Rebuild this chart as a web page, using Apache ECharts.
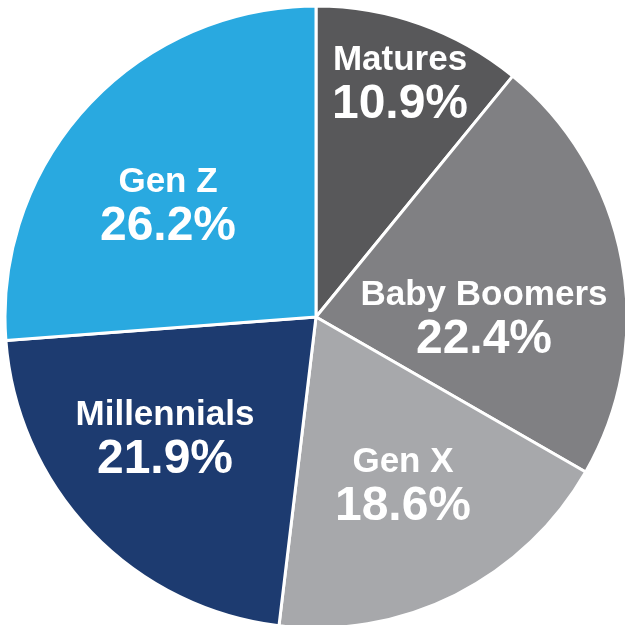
<!DOCTYPE html>
<html lang="en">
<head>
    <meta charset="UTF-8">
    <title>Generations</title>
    <style>
        html, body { margin: 0; padding: 0; background: #fff; }
        #box { width: 625px; height: 625px; }
    </style>
</head>
<body>
    <div id="box"></div>
    <script src="https://cdn.jsdelivr.net/npm/echarts@6/dist/echarts.min.js"></script>
    <script>
        // data (clockwise from the top)
        var names = ['Matures', 'Baby Boomers', 'Gen X', 'Millennials', 'Gen Z'];
        var shares = [10.9, 22.4, 18.6, 21.9, 26.2];
        var colors = ['#58585a', '#808083', '#a7a8ab', '#1d3b70', '#29a9e0'];

        // where each label block sits, offset from the pie centre (px)
        var labelSpots = [[84, -232], [168, 3], [87, 170], [-151, 123], [-148, -110]];

        var cx = 316, cy = 317;

        var chart = echarts.init(document.getElementById('box'));

        var pieData = names.map(function (n, i) {
            return { name: n, value: shares[i], itemStyle: { color: colors[i] } };
        });

        var option = {
            animation: false,
            series: [{
                type: 'pie',
                center: [cx, cy],
                radius: 311,
                startAngle: 90,
                clockwise: true,
                data: pieData,
                itemStyle: { borderColor: '#fff', borderWidth: 3 },
                label: {
                    show: true,
                    position: 'inside',
                    formatter: function (p) {
                        return '{n|' + p.name + '}\n{v|' + p.value.toFixed(1) + '%}';
                    },
                    rich: {
                        n: { color: '#fff', fontFamily: 'Liberation Sans, Arial', fontWeight: 'bold', fontSize: 35, lineHeight: 40 },
                        v: { color: '#fff', fontFamily: 'Liberation Sans, Arial', fontWeight: 'bold', fontSize: 48, lineHeight: 50 }
                    }
                },
                labelLine: { show: false },
                labelLayout: function (p) {
                    var s = labelSpots[p.dataIndex];
                    return { x: cx + s[0], y: cy + s[1], align: 'center', verticalAlign: 'middle' };
                },
                emphasis: { disabled: true }
            }]
        };

        option && chart.setOption(option);
    </script>
</body>
</html>
